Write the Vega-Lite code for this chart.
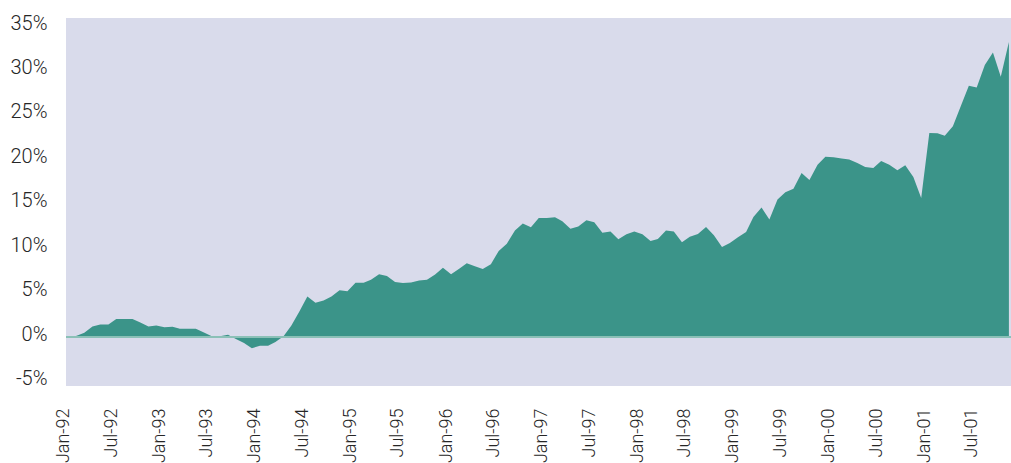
{
  "$schema": "https://vega.github.io/schema/vega-lite/v6.json",
  "width": 945,
  "height": 368,
  "autosize": {"type": "none"},
  "padding": {"left": 66, "top": 18, "right": 0, "bottom": 77},
  "background": "#ffffff",
  "config": {
    "view": {"fill": "#d9dbeb", "stroke": null},
    "axis": {"labelFont": "Roboto", "labelFontWeight": 300, "labelColor": "#262626", "ticks": false, "domain": false, "grid": false, "title": null}
  },
  "data": {"values": [
    {"date": "1992-01-01", "v": -0.1}, {"date": "1992-02-01", "v": 0.15}, {"date": "1992-03-01", "v": 0.5}, {"date": "1992-04-01", "v": 1.2},
    {"date": "1992-05-01", "v": 1.43}, {"date": "1992-06-01", "v": 1.43}, {"date": "1992-07-01", "v": 2.03}, {"date": "1992-08-01", "v": 2.03},
    {"date": "1992-09-01", "v": 2.03}, {"date": "1992-10-01", "v": 1.65}, {"date": "1992-11-01", "v": 1.2}, {"date": "1992-12-01", "v": 1.32},
    {"date": "1993-01-01", "v": 1.1}, {"date": "1993-02-01", "v": 1.16}, {"date": "1993-03-01", "v": 0.94}, {"date": "1993-04-01", "v": 0.94},
    {"date": "1993-05-01", "v": 0.94}, {"date": "1993-06-01", "v": 0.53}, {"date": "1993-07-01", "v": 0.1}, {"date": "1993-08-01", "v": 0.1},
    {"date": "1993-09-01", "v": 0.26}, {"date": "1993-10-01", "v": -0.2}, {"date": "1993-11-01", "v": -0.67}, {"date": "1993-12-01", "v": -1.24},
    {"date": "1994-01-01", "v": -0.97}, {"date": "1994-02-01", "v": -0.97}, {"date": "1994-03-01", "v": -0.56}, {"date": "1994-04-01", "v": 0.1},
    {"date": "1994-05-01", "v": 1.3}, {"date": "1994-06-01", "v": 2.9}, {"date": "1994-07-01", "v": 4.58}, {"date": "1994-08-01", "v": 3.87},
    {"date": "1994-09-01", "v": 4.13}, {"date": "1994-10-01", "v": 4.58}, {"date": "1994-11-01", "v": 5.26}, {"date": "1994-12-01", "v": 5.15},
    {"date": "1995-01-01", "v": 6.12}, {"date": "1995-02-01", "v": 6.12}, {"date": "1995-03-01", "v": 6.46}, {"date": "1995-04-01", "v": 7.06},
    {"date": "1995-05-01", "v": 6.87}, {"date": "1995-06-01", "v": 6.19}, {"date": "1995-07-01", "v": 6.08}, {"date": "1995-08-01", "v": 6.15},
    {"date": "1995-09-01", "v": 6.38}, {"date": "1995-10-01", "v": 6.46}, {"date": "1995-11-01", "v": 7.03}, {"date": "1995-12-01", "v": 7.8},
    {"date": "1996-01-01", "v": 7.06}, {"date": "1996-02-01", "v": 7.7}, {"date": "1996-03-01", "v": 8.3}, {"date": "1996-04-01", "v": 7.96},
    {"date": "1996-05-01", "v": 7.66}, {"date": "1996-06-01", "v": 8.19}, {"date": "1996-07-01", "v": 9.7}, {"date": "1996-08-01", "v": 10.5},
    {"date": "1996-09-01", "v": 12.0}, {"date": "1996-10-01", "v": 12.77}, {"date": "1996-11-01", "v": 12.35}, {"date": "1996-12-01", "v": 13.4},
    {"date": "1997-01-01", "v": 13.4}, {"date": "1997-02-01", "v": 13.48}, {"date": "1997-03-01", "v": 13.03}, {"date": "1997-04-01", "v": 12.2},
    {"date": "1997-05-01", "v": 12.43}, {"date": "1997-06-01", "v": 13.14}, {"date": "1997-07-01", "v": 12.92}, {"date": "1997-08-01", "v": 11.75},
    {"date": "1997-09-01", "v": 11.87}, {"date": "1997-10-01", "v": 11.0}, {"date": "1997-11-01", "v": 11.56}, {"date": "1997-12-01", "v": 11.87},
    {"date": "1998-01-01", "v": 11.56}, {"date": "1998-02-01", "v": 10.81}, {"date": "1998-03-01", "v": 11.04}, {"date": "1998-04-01", "v": 12.0},
    {"date": "1998-05-01", "v": 11.87}, {"date": "1998-06-01", "v": 10.66}, {"date": "1998-07-01", "v": 11.3}, {"date": "1998-08-01", "v": 11.6},
    {"date": "1998-09-01", "v": 12.39}, {"date": "1998-10-01", "v": 11.45}, {"date": "1998-11-01", "v": 10.14}, {"date": "1998-12-01", "v": 10.59},
    {"date": "1999-01-01", "v": 11.23}, {"date": "1999-02-01", "v": 11.83}, {"date": "1999-03-01", "v": 13.51}, {"date": "1999-04-01", "v": 14.57},
    {"date": "1999-05-01", "v": 13.22}, {"date": "1999-06-01", "v": 15.47}, {"date": "1999-07-01", "v": 16.3}, {"date": "1999-08-01", "v": 16.7},
    {"date": "1999-09-01", "v": 18.47}, {"date": "1999-10-01", "v": 17.68}, {"date": "1999-11-01", "v": 19.4}, {"date": "1999-12-01", "v": 20.3},
    {"date": "2000-01-01", "v": 20.24}, {"date": "2000-02-01", "v": 20.1}, {"date": "2000-03-01", "v": 19.98}, {"date": "2000-04-01", "v": 19.6},
    {"date": "2000-05-01", "v": 19.14}, {"date": "2000-06-01", "v": 19.03}, {"date": "2000-07-01", "v": 19.8}, {"date": "2000-08-01", "v": 19.4},
    {"date": "2000-09-01", "v": 18.77}, {"date": "2000-10-01", "v": 19.33}, {"date": "2000-11-01", "v": 18.02}, {"date": "2000-12-01", "v": 15.65},
    {"date": "2001-01-01", "v": 22.97}, {"date": "2001-02-01", "v": 22.94}, {"date": "2001-03-01", "v": 22.64}, {"date": "2001-04-01", "v": 23.73},
    {"date": "2001-05-01", "v": 25.98}, {"date": "2001-06-01", "v": 28.27}, {"date": "2001-07-01", "v": 28.08}, {"date": "2001-08-01", "v": 30.6},
    {"date": "2001-09-01", "v": 32.03}, {"date": "2001-10-01", "v": 29.3}, {"date": "2001-11-01", "v": 33.19}
  ]},
  "layer": [
    {
      "mark": {"type": "area", "color": "#3b9489", "interpolate": "linear"},
      "encoding": {
        "x": {
          "field": "date", "type": "temporal",
          "scale": {"type": "utc", "domain": [{"year": 1991, "month": 12, "date": 22, "utc": true}, {"year": 2001, "month": 11, "date": 9, "utc": true}]},
          "axis": {
            "format": "%b-%y", "labelAngle": -90, "labelFontSize": 18, "labelPadding": 22, "labelOffset": -5,
            "values": [
              {"year": 1992, "month": 1, "date": 1, "utc": true}, {"year": 1992, "month": 7, "date": 1, "utc": true},
              {"year": 1993, "month": 1, "date": 1, "utc": true}, {"year": 1993, "month": 7, "date": 1, "utc": true},
              {"year": 1994, "month": 1, "date": 1, "utc": true}, {"year": 1994, "month": 7, "date": 1, "utc": true},
              {"year": 1995, "month": 1, "date": 1, "utc": true}, {"year": 1995, "month": 7, "date": 1, "utc": true},
              {"year": 1996, "month": 1, "date": 1, "utc": true}, {"year": 1996, "month": 7, "date": 1, "utc": true},
              {"year": 1997, "month": 1, "date": 1, "utc": true}, {"year": 1997, "month": 7, "date": 1, "utc": true},
              {"year": 1998, "month": 1, "date": 1, "utc": true}, {"year": 1998, "month": 7, "date": 1, "utc": true},
              {"year": 1999, "month": 1, "date": 1, "utc": true}, {"year": 1999, "month": 7, "date": 1, "utc": true},
              {"year": 2000, "month": 1, "date": 1, "utc": true}, {"year": 2000, "month": 7, "date": 1, "utc": true},
              {"year": 2001, "month": 1, "date": 1, "utc": true}, {"year": 2001, "month": 7, "date": 1, "utc": true}
            ]
          }
        },
        "y": {
          "field": "v", "type": "quantitative",
          "scale": {"domain": [-5.5, 35.9], "nice": false, "zero": false},
          "axis": {
            "values": [-5, 0, 5, 10, 15, 20, 25, 30, 35],
            "labelExpr": "datum.value + '%'",
            "labelFontSize": 20, "labelPadding": 19, "labelOffset": -3
          }
        }
      }
    },
    {
      "mark": {"type": "rule", "color": "#8cc0b8", "strokeWidth": 1},
      "encoding": {"y": {"datum": 0}}
    }
  ]
}
